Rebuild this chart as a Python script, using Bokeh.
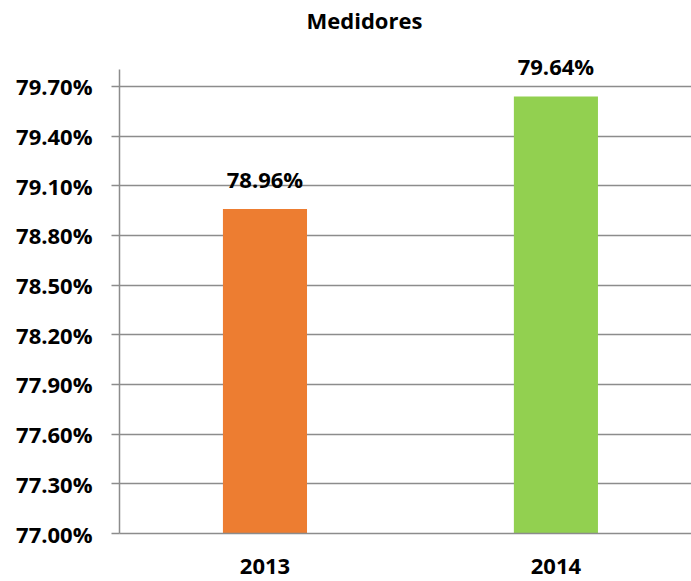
from bokeh.plotting import figure
from bokeh.models import Range1d, FixedTicker, PrintfTickFormatter, ColumnDataSource
from bokeh.core.properties import value
from bokeh.embed import file_html
from bokeh.resources import INLINE

# data
years = ["2013", "2014"]
values = [78.96, 79.64]
value_labels = ["78.96%", "79.64%"]
colors = ["#ED7D31", "#92D050"]
y_ticks = [77.00, 77.30, 77.60, 77.90, 78.20, 78.50, 78.80, 79.10, 79.40, 79.70]
y_axis_top = 79.80

FONT = "Open Sans"
GRID = "#8C8C8C"

xpos = [i + 0.5 for i in range(len(years))]
src = ColumnDataSource(dict(x=xpos, top=values, color=colors, label=value_labels))

p = figure(width=691, height=581, output_backend="svg", toolbar_location=None,
           x_range=Range1d(0, 1.966), y_range=Range1d(77.0, 80.014),
           min_border_left=119, min_border_right=0, min_border_top=34,
           min_border_bottom=48, title="Medidores")
p.outline_line_color = None
p.background_fill_color = "white"
p.border_fill_color = "white"

p.title.align = "left"
p.title.offset = 187
p.title.standoff = 0
p.title.text_font = FONT
p.title.text_font_style = "bold"
p.title.text_font_size = "22px"
p.title.text_color = "#000000"

p.vbar(x="x", top="top", bottom=77.0, width=0.289, color="color", line_color=None, source=src)
p.text(x="x", y="top", text="label", source=src, text_align="center",
       text_baseline="alphabetic", y_offset=-30, text_font=value(FONT),
       text_font_style="bold", text_font_size="22px", text_color="#000000")

p.xgrid.visible = False
p.ygrid.ticker = FixedTicker(ticks=y_ticks)
p.ygrid.grid_line_color = GRID
p.ygrid.grid_line_width = 1.5

p.yaxis.ticker = FixedTicker(ticks=y_ticks)
p.yaxis.bounds = (y_ticks[0], y_axis_top)
p.yaxis.formatter = PrintfTickFormatter(format="%.2f%%")
p.yaxis.axis_line_color = GRID
p.yaxis.axis_line_width = 1.5
p.yaxis.major_tick_line_color = GRID
p.yaxis.major_tick_line_width = 1.5
p.yaxis.major_tick_out = 8
p.yaxis.major_tick_in = 0
p.yaxis.minor_tick_line_color = None
p.yaxis.major_label_standoff = 19
p.yaxis.major_label_text_font = FONT
p.yaxis.major_label_text_font_style = "bold"
p.yaxis.major_label_text_font_size = "22px"
p.yaxis.major_label_text_color = "#000000"

p.xaxis.ticker = FixedTicker(ticks=xpos)
p.xaxis.major_label_overrides = {x: y for x, y in zip(xpos, years)}
p.xaxis.axis_line_color = GRID
p.xaxis.axis_line_width = 1.5
p.xaxis.major_tick_line_color = None
p.xaxis.minor_tick_line_color = None
p.xaxis.major_tick_out = 0
p.xaxis.major_tick_in = 0
p.xaxis.major_label_standoff = 25
p.xaxis.major_label_text_font = FONT
p.xaxis.major_label_text_font_style = "bold"
p.xaxis.major_label_text_font_size = "22px"
p.xaxis.major_label_text_color = "#000000"

open("out.html", "w").write(file_html(p, INLINE))
